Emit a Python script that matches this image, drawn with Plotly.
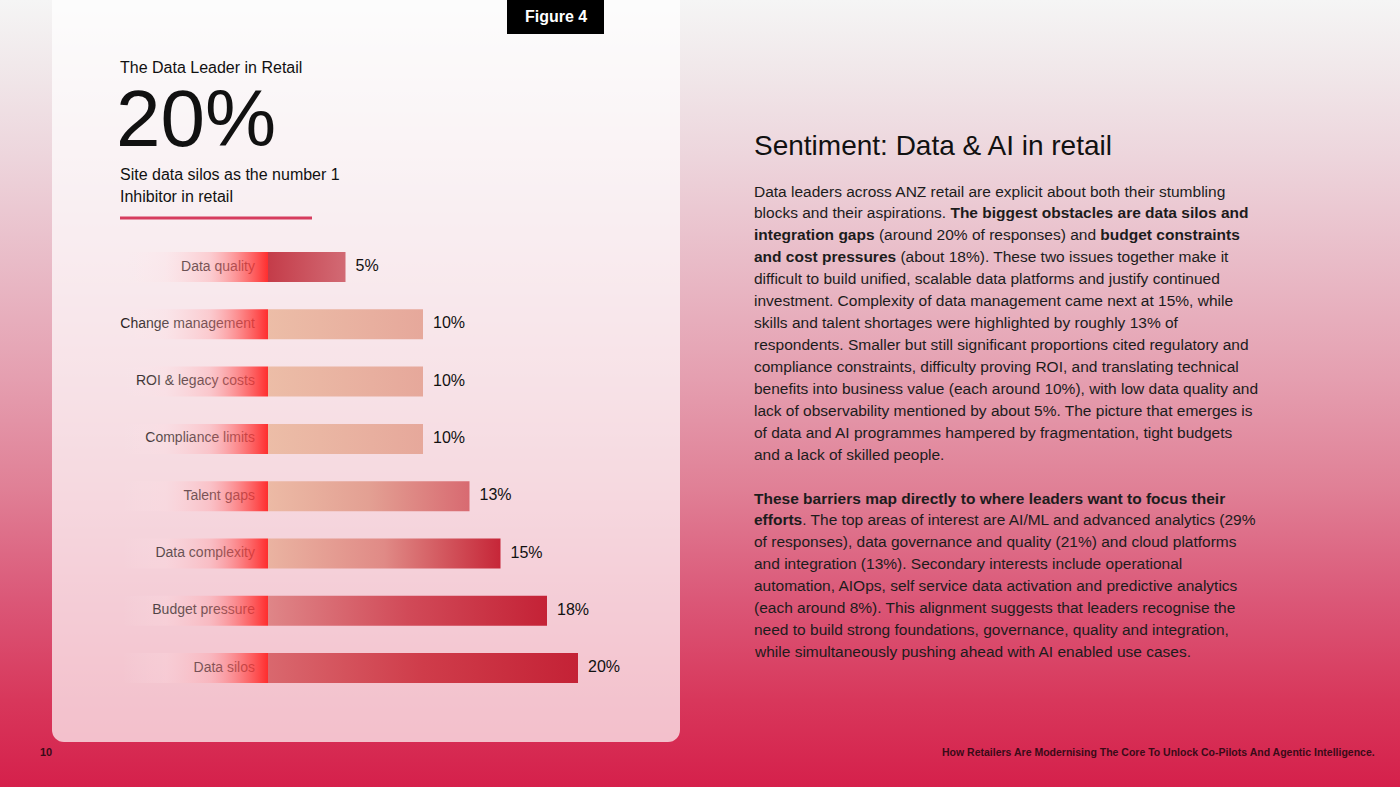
import base64
import plotly.graph_objects as go

# ---------------- data ----------------
categories = ["Data quality", "Change management", "ROI & legacy costs", "Compliance limits",
              "Talent gaps", "Data complexity", "Budget pressure", "Data silos"]
values = [5, 10, 10, 10, 13, 15, 18, 20]
value_labels = [f"{v}%" for v in values]

headline_value = "20%"

para1 = [
    "Data leaders across ANZ retail are explicit about both their stumbling",
    "blocks and their aspirations. <b>The biggest obstacles are data silos and</b>",
    "<b>integration gaps</b> (around 20% of responses) and <b>budget constraints</b>",
    "<b>and cost pressures</b> (about 18%). These two issues together make it",
    "difficult to build unified, scalable data platforms and justify continued",
    "investment. Complexity of data management came next at 15%, while",
    "skills and talent shortages were highlighted by roughly 13% of",
    "respondents. Smaller but still significant proportions cited regulatory and",
    "compliance constraints, difficulty proving ROI, and translating technical",
    "benefits into business value (each around 10%), with low data quality and",
    "lack of observability mentioned by about 5%. The picture that emerges is",
    "of data and AI programmes hampered by fragmentation, tight budgets",
    "and a lack of skilled people.",
]
para2 = [
    "<b>These barriers map directly to where leaders want to focus their</b>",
    "<b>efforts</b>. The top areas of interest are AI/ML and advanced analytics (29%",
    "of responses), data governance and quality (21%) and cloud platforms",
    "and integration (13%). Secondary interests include operational",
    "automation, AIOps, self service data activation and predictive analytics",
    "(each around 8%). This alignment suggests that leaders recognise the",
    "need to build strong foundations, governance, quality and integration,",
    "while simultaneously pushing ahead with AI enabled use cases.",
]

# ---------------- styles ----------------
bar_colors = [
    ["#c43c49", "#d26a74"],
    ["#ecbda7", "#e6a89b"],
    ["#ecbda7", "#e6a89b"],
    ["#ecbda7", "#e6a89b"],
    ["#ecbaa5", "#e3a093", "#d86a71"],
    ["#eab3a1", "#e08a86", "#c62638"],
    ["#df8688", "#d14a58", "#c42236"],
    ["#d9686e", "#cf3c4a", "#c42236"],
]
FONT = "Liberation Sans, Arial, Helvetica, sans-serif"
W, H = 1400, 787


def px_x(px):
    return px / W


def px_y(py):
    return 1 - py / H


# axis geometry (pixel placement of the chart panel)
X0_PX, X_LEFT_PX, X_RIGHT_PX = 268, 100, 680
S = 15.5  # px per percentage point
x_range = [-(X0_PX - X_LEFT_PX) / S, (X_RIGHT_PX - X0_PX) / S]
ROW0, ROWSTEP = 267, 57.3
Y_TOP, Y_BOT = 240, 697
y_range = [(Y_BOT - ROW0) / ROWSTEP, (Y_TOP - ROW0) / ROWSTEP]
half = 15 / ROWSTEP
label_box_left = -(X0_PX - 122) / S

fig = go.Figure()
n = len(categories)
rows = list(range(n))

# category labels (drawn first so the red fade sits over them)
fig.add_trace(go.Scatter(
    x=[-13 / S] * n, y=rows, text=categories, mode="text",
    textposition="middle left",
    textfont=dict(family=FONT, size=14, color="#261c20"),
    hoverinfo="skip", showlegend=False))

# fading red label boxes
for i in rows:
    fig.add_trace(go.Scatter(
        x=[label_box_left, 0, 0, label_box_left, label_box_left],
        y=[i - half, i - half, i + half, i + half, i - half],
        mode="lines", line=dict(width=0), fill="toself",
        fillgradient=dict(type="horizontal", colorscale=[
            [0.0, "rgba(255,235,238,0)"],
            [0.3, "rgba(255,220,225,0.25)"],
            [0.6, "rgba(255,160,165,0.4)"],
            [0.85, "rgba(255,80,80,0.75)"],
            [1.0, "rgba(255,40,40,0.97)"]]),
        hoverinfo="skip", showlegend=False))

# bars
for i, (cat, v) in enumerate(zip(categories, values)):
    cols = bar_colors[i]
    cs = [[k / (len(cols) - 1), c] for k, c in enumerate(cols)]
    fig.add_trace(go.Scatter(
        x=[0, v, v, 0, 0],
        y=[i - half, i - half, i + half, i + half, i - half],
        mode="lines", line=dict(width=0), fill="toself",
        fillgradient=dict(type="horizontal", colorscale=cs),
        name=cat, hoverinfo="skip", showlegend=False))

# value labels
fig.add_trace(go.Scatter(
    x=[v + 10 / S for v in values], y=rows, text=value_labels, mode="text",
    textposition="middle right",
    textfont=dict(family=FONT, size=16, color="#111111"),
    hoverinfo="skip", showlegend=False))

# ---------------- background (page gradient + card) ----------------
svg = f'''<svg xmlns="http://www.w3.org/2000/svg" width="{W}" height="{H}" viewBox="0 0 {W} {H}" preserveAspectRatio="none">
<defs><linearGradient id="g" x1="0" y1="0" x2="0" y2="1">
<stop offset="0" stop-color="#f5f5f5"/>
<stop offset="0.08" stop-color="#f1e9eb"/>
<stop offset="0.2" stop-color="#edd5dc"/>
<stop offset="0.33" stop-color="#e9bcc8"/>
<stop offset="0.48" stop-color="#e59fb0"/>
<stop offset="0.62" stop-color="#e08096"/>
<stop offset="0.76" stop-color="#db5878"/>
<stop offset="0.89" stop-color="#d8375b"/>
<stop offset="1" stop-color="#d5204b"/>
</linearGradient></defs>
<rect width="{W}" height="{H}" fill="url(#g)"/>
<rect x="52" y="-20" width="628" height="762" rx="12" ry="12" fill="#ffffff" fill-opacity="0.7"/>
</svg>'''
src = "data:image/svg+xml;base64," + base64.b64encode(svg.encode()).decode()

annotations = []


def ann(text, x, y, size, color="#111111", xanchor="left", yanchor="middle"):
    annotations.append(dict(text=text, x=px_x(x), y=px_y(y), xref="paper", yref="paper",
                            xanchor=xanchor, yanchor=yanchor, showarrow=False,
                            font=dict(family=FONT, size=size, color=color)))


ann("<b>Figure 4</b>", 555.5, 17, 16, color="#ffffff", xanchor="center")
ann("The Data Leader in Retail", 118, 68, 16)
ann(headline_value, 114, 119, 80)
ann("Site data silos as the number 1", 118, 174, 16)
ann("Inhibitor in retail", 118, 196, 16)
ann("Sentiment: Data &amp; AI in retail", 752, 145, 28)
for k, line in enumerate(para1):
    ann(line, 752, 191 + k * 21.92, 15.5, color="#1c1c1c")
for k, line in enumerate(para2):
    ann(line, 752, 498 + k * 21.86, 15.5, color="#1c1c1c")
ann("<b>10</b>", 38, 752, 11, color="#3a0b18")
ann("<b>How Retailers Are Modernising The Core To Unlock Co-Pilots And Agentic Intelligence.</b>",
    1377, 752, 10.5, color="#3a0b18", xanchor="right")

shapes = [
    dict(type="rect", xref="paper", yref="paper", x0=px_x(507), x1=px_x(604), y0=px_y(0), y1=px_y(34),
         fillcolor="#000000", line=dict(width=0), layer="above"),
    dict(type="line", xref="paper", yref="paper", x0=px_x(120), x1=px_x(312), y0=px_y(218), y1=px_y(218),
         line=dict(color="#d63c5e", width=3)),
]

fig.update_layout(
    width=W, height=H, margin=dict(l=0, r=0, t=0, b=0),
    paper_bgcolor="#eecdd6", plot_bgcolor="rgba(0,0,0,0)",
    showlegend=False,
    xaxis=dict(domain=[px_x(X_LEFT_PX), px_x(X_RIGHT_PX)], range=x_range, visible=False, fixedrange=True),
    yaxis=dict(domain=[px_y(Y_BOT), px_y(Y_TOP)], range=y_range, visible=False, fixedrange=True),
    images=[dict(source=src, xref="paper", yref="paper", x=0, y=1, sizex=1, sizey=1,
                 xanchor="left", yanchor="top", sizing="stretch", layer="below")],
    annotations=annotations, shapes=shapes,
)

fig.write_html("out.html", config={"displayModeBar": False},
               post_script="document.body.style.margin='0';document.body.style.overflow='hidden';")
